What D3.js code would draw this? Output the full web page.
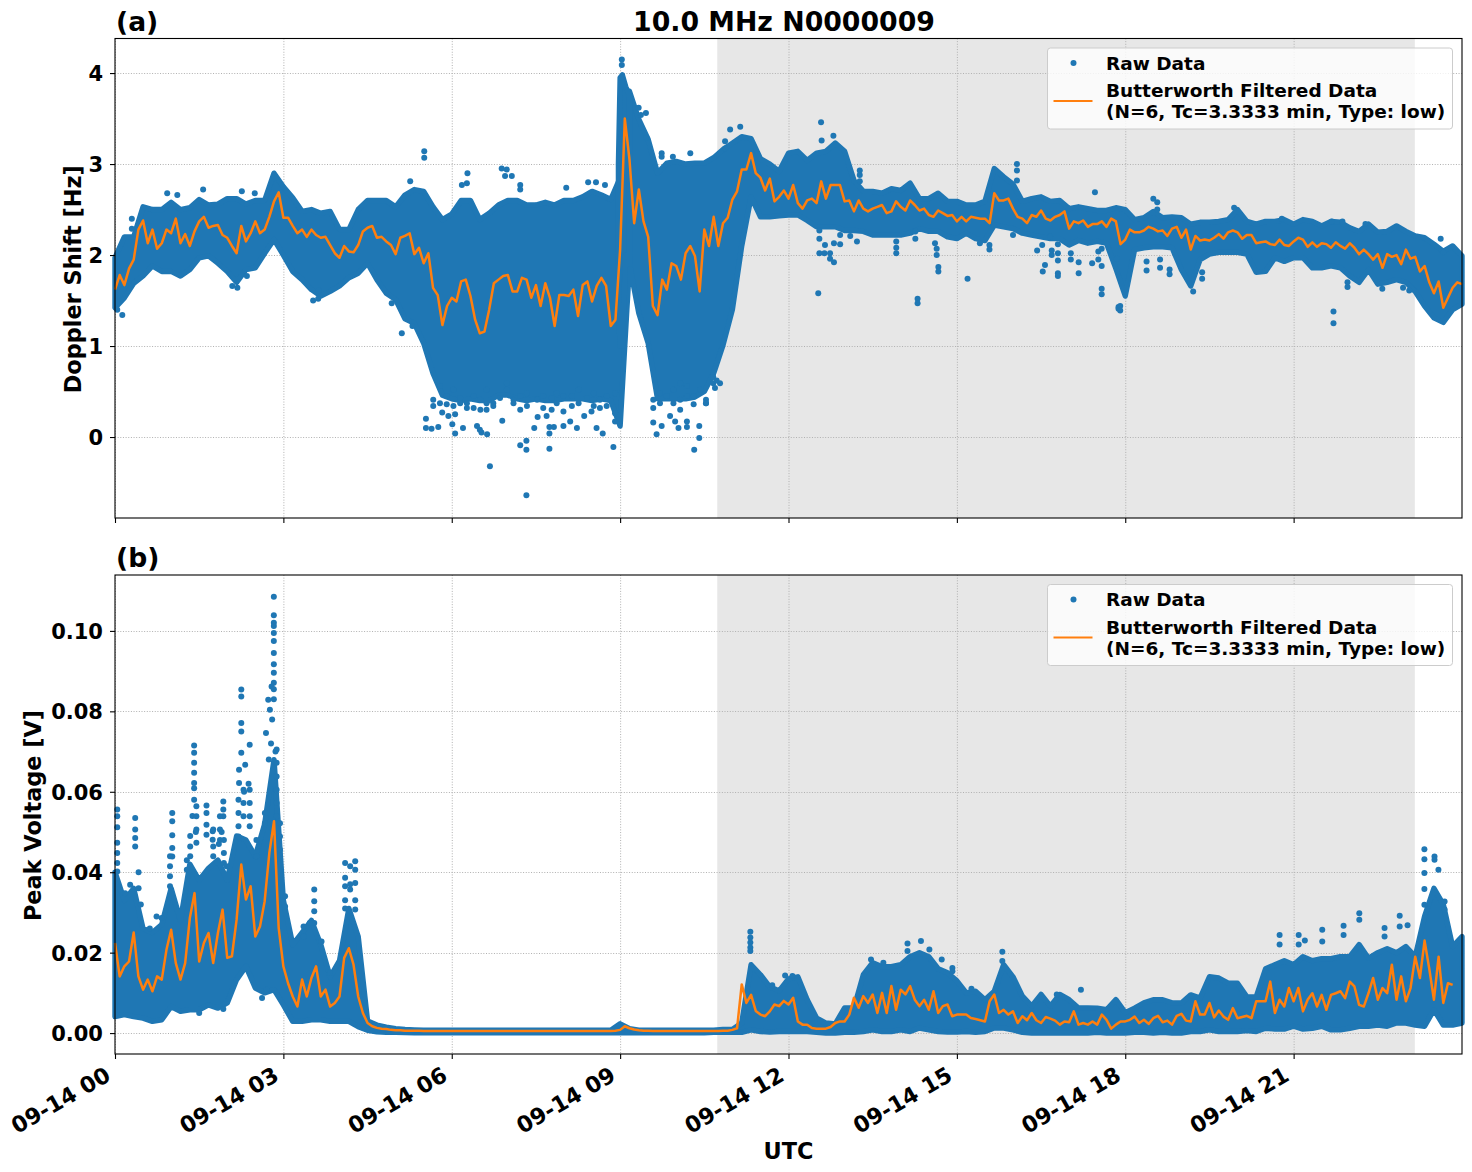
<!DOCTYPE html>
<html>
<head>
<meta charset="utf-8">
<script src="https://cdn.jsdelivr.net/npm/d3@7"></script>
<style>
html,body{margin:0;padding:0;background:#fff}
svg{display:block}
text{font-family:"DejaVu Sans",sans-serif;font-weight:bold;fill:#000}
</style>
</head>
<body>
<svg id="chart" width="1472" height="1172"></svg>
<script>
// Filtered Doppler shift [Hz], one value every 5 minutes from 00:00
const filteredHz = [
1.62,1.78,1.67,1.85,1.95,2.28,2.38,2.13,2.28,2.07,2.13,2.28,2.24,2.40,2.13,2.23,2.10,2.26,2.37,2.42,2.30,2.32,2.33,2.22,
2.19,2.10,2.02,2.32,2.15,2.24,2.37,2.24,2.28,2.42,2.59,2.69,2.41,2.41,2.32,2.24,2.28,2.20,2.28,2.22,2.19,2.20,2.11,2.02,
1.97,2.10,2.04,2.03,2.11,2.26,2.30,2.32,2.19,2.20,2.15,2.11,2.01,2.19,2.21,2.24,2.01,2.08,1.91,2.02,1.64,1.56,1.23,1.44,
1.53,1.49,1.71,1.73,1.55,1.29,1.14,1.16,1.40,1.69,1.73,1.77,1.78,1.60,1.60,1.75,1.73,1.53,1.67,1.44,1.69,1.53,1.22,1.56,
1.56,1.55,1.62,1.33,1.67,1.71,1.49,1.66,1.75,1.66,1.22,1.29,2.06,3.50,3.05,2.35,2.72,2.37,2.20,1.44,1.34,1.73,1.62,1.91,
1.88,1.73,2.02,2.10,1.99,1.60,2.28,2.10,2.42,2.10,2.35,2.41,2.61,2.70,2.94,2.94,3.12,2.90,2.85,2.71,2.84,2.59,2.64,2.71,
2.62,2.77,2.57,2.51,2.60,2.62,2.57,2.81,2.62,2.77,2.77,2.77,2.59,2.60,2.48,2.60,2.51,2.48,2.51,2.53,2.55,2.46,2.48,2.59,
2.53,2.49,2.60,2.55,2.49,2.51,2.44,2.42,2.49,2.46,2.43,2.44,2.37,2.42,2.37,2.42,2.41,2.40,2.40,2.35,2.68,2.60,2.60,2.62,
2.51,2.42,2.40,2.35,2.44,2.42,2.49,2.40,2.38,2.42,2.44,2.48,2.29,2.37,2.35,2.38,2.31,2.34,2.34,2.37,2.31,2.40,2.37,2.12,
2.17,2.28,2.25,2.25,2.27,2.31,2.29,2.26,2.27,2.21,2.29,2.31,2.19,2.28,2.06,2.21,2.16,2.17,2.16,2.19,2.23,2.18,2.25,2.27,
2.25,2.18,2.22,2.22,2.13,2.14,2.15,2.12,2.11,2.17,2.11,2.10,2.15,2.19,2.17,2.09,2.14,2.09,2.13,2.12,2.08,2.14,2.10,2.07,
2.13,2.08,2.01,2.06,2.01,1.95,2.01,1.86,2.01,1.98,2.00,1.90,2.06,1.96,1.98,1.82,1.88,1.70,1.58,1.71,1.42,1.53,1.64,1.70,1.68
];

// Upper and lower edge of the raw Doppler cloud [Hz], one value every 10 minutes
const rawHzHigh = [
1.97,2.20,2.20,2.53,2.50,2.50,2.58,2.50,2.52,2.61,2.55,2.56,2.62,2.62,2.56,2.60,2.60,2.90,2.75,2.63,2.48,2.50,2.46,2.48,
2.28,2.28,2.50,2.60,2.60,2.60,2.53,2.66,2.72,2.70,2.53,2.39,2.45,2.60,2.60,2.39,2.46,2.55,2.60,2.60,2.55,2.55,2.58,2.55,
2.60,2.60,2.64,2.70,2.66,2.61,2.85,3.80,3.49,3.27,2.90,3.01,3.03,3.00,3.01,3.01,3.07,3.16,3.23,3.30,3.28,3.06,3.00,2.92,
3.12,3.14,3.04,3.12,3.14,3.23,3.14,2.82,2.70,2.70,2.68,2.73,2.71,2.79,2.62,2.62,2.68,2.59,2.59,2.55,2.55,2.59,2.95,2.86,
2.78,2.59,2.62,2.64,2.59,2.60,2.51,2.53,2.51,2.49,2.49,2.52,2.50,2.39,2.41,2.48,2.41,2.42,2.41,2.34,2.36,2.36,2.37,2.39,
2.50,2.37,2.34,2.37,2.37,2.39,2.34,2.39,2.37,2.32,2.37,2.36,2.30,2.26,2.34,2.25,2.26,2.32,2.26,2.21,2.19,2.12,2.04,2.10,1.99
];
const rawHzLow = [
1.42,1.53,1.69,1.77,1.88,1.82,1.82,1.77,1.84,1.97,1.99,1.91,1.82,1.70,1.84,1.86,2.02,2.17,2.00,1.82,1.73,1.62,1.55,1.60,
1.66,1.75,1.80,1.91,1.73,1.58,1.51,1.30,1.25,1.03,0.70,0.46,0.42,0.40,0.42,0.40,0.40,0.46,0.46,0.42,0.40,0.42,0.40,0.40,
0.42,0.42,0.42,0.40,0.42,0.40,0.12,1.90,1.36,1.03,0.42,0.42,0.42,0.42,0.44,0.50,0.70,1.01,1.40,2.10,2.64,2.42,2.42,2.43,
2.44,2.44,2.38,2.31,2.31,2.31,2.27,2.27,2.26,2.22,2.22,2.22,2.22,2.24,2.29,2.26,2.26,2.20,2.18,2.24,2.18,2.16,2.33,2.31,
2.29,2.24,2.22,2.20,2.18,2.18,2.11,2.16,2.13,2.15,2.13,1.85,1.55,2.06,2.08,2.09,2.09,2.08,1.84,1.66,1.95,2.01,2.03,2.03,
2.03,2.01,1.81,1.82,1.97,1.93,1.97,1.97,1.86,1.86,1.88,1.86,1.77,1.70,1.84,1.68,1.70,1.73,1.70,1.60,1.44,1.31,1.26,1.40,1.46
];

// The narrow spike of the raw Doppler cloud just after 09:00, at finer time steps
const spikeHours = [8.97,9.00,9.04,9.10,9.17];
const spikeHzHigh = [3.00,3.95,3.98,3.85,3.75];
const spikeHzLow = [1.50,1.00,1.00,2.00,1.90];

// Isolated raw Doppler samples outside the cloud: [hour, Hz]
const strayHz = [
[0.30,2.40],[0.30,2.29],[2.35,1.77],[3.53,1.50],[3.62,1.52],[3.63,1.61],[4.93,1.47],[5.11,1.14],[5.30,1.22],[5.26,2.81],
[5.51,3.14],[5.51,3.07],[6.28,2.90],[6.89,2.95],[6.98,2.94],[6.95,2.87],[7.07,2.87],[7.22,2.77],[7.22,2.72],[6.18,2.77],
[6.27,2.79],[8.04,2.74],[8.43,2.80],[8.57,2.80],[8.73,2.77],[9.33,3.62],[9.46,3.56],[9.37,3.54],[9.47,3.29],[9.03,4.15],
[9.03,4.09],[9.74,3.12],[9.74,3.08],[9.94,3.08],[10.25,3.12],[10.87,3.25],[10.87,3.17],[10.96,3.38],[11.14,3.41],
[6.68,-0.32],[7.33,-0.64],[7.33,-0.04],[7.22,-0.09],[7.33,-0.14],[7.74,-0.13],[8.88,-0.11],[10.32,-0.14],[10.41,-0.01],
[10.41,0.12],[7.74,0.04],[7.74,0.11],[6.63,0.03],[6.53,0.05],[6.45,0.12],[6.50,0.08],[6.06,0.04],[6.01,0.14],[5.64,0.09],
[5.54,0.10],[5.54,0.20],[5.76,0.11],[5.83,0.27],[5.94,0.23],[6.06,0.25],[6.20,0.10],[6.90,0.18],[7.47,0.10],[7.53,0.22],
[7.69,0.23],[7.82,0.11],[7.99,0.12],[8.23,0.10],[8.11,0.17],[8.58,0.10],[8.69,0.04],[8.49,0.28],[8.36,0.23],[9.59,0.16],
[9.65,0.03],[9.74,0.12],[9.89,0.23],[9.98,0.17],[10.04,0.10],[10.19,0.17],[10.19,0.11],[10.78,0.59],[10.69,0.54],[10.53,0.37],
[5.67,0.41],[5.67,0.34],[5.79,0.56],[5.79,0.37],[5.91,0.45],[5.91,0.36],[6.03,0.52],[6.03,0.34],[6.15,0.43],[6.15,0.37],
[6.27,0.37],[6.27,0.32],[6.39,0.45],[6.39,0.32],[6.51,0.41],[6.51,0.30],[6.62,0.52],[6.62,0.37],[6.62,0.30],[6.74,0.37],
[6.74,0.34],[6.86,0.43],[6.98,0.59],[6.98,0.52],[7.10,0.41],[7.10,0.37],[7.22,0.45],[7.22,0.30],[7.34,0.48],[7.34,0.34],
[7.52,0.41],[7.63,0.45],[7.63,0.32],[7.78,0.43],[7.78,0.30],[7.87,0.48],[7.87,0.37],[7.99,0.45],[7.99,0.28],[8.14,0.45],
[8.14,0.34],[8.26,0.52],[8.26,0.37],[8.41,0.43],[8.53,0.48],[8.53,0.34],[8.64,0.41],[8.64,0.32],[8.76,0.45],[8.76,0.34],
[8.91,0.48],[8.91,0.26],[8.91,0.17],[9.59,0.41],[9.59,0.32],[9.71,0.48],[9.71,0.37],[9.83,0.45],[9.95,0.52],[9.95,0.37],
[10.07,0.59],[10.07,0.41],[10.07,0.30],[10.19,0.56],[10.19,0.45],[10.31,0.45],[10.31,0.36],[10.43,0.52],[10.53,0.41],[10.53,0.37],
[10.66,0.66],[10.66,0.59],[10.72,0.62],
[0.93,2.68],[1.11,2.66],[1.57,2.72],[2.26,2.70],[2.49,2.68],[2.09,1.66],[2.18,1.64],[0.13,1.34],[0.04,1.40],
[12.58,3.46],[12.80,3.31],[12.59,3.26],[13.27,2.93],[13.27,2.88],[13.27,2.81],[12.53,1.58],[12.55,2.02],[12.64,2.02],[12.74,2.02],
[12.81,1.92],[12.74,1.96],[12.65,2.11],[12.81,2.13],[12.92,2.12],[12.92,2.22],[12.55,2.18],[12.55,2.27],[13.10,2.21],[13.22,2.15],
[13.92,2.15],[13.92,2.08],[13.92,2.02],[14.26,2.18],[14.26,2.26],[14.30,1.52],[14.30,1.47],[14.61,2.13],[14.64,2.07],[14.64,2.00],
[14.67,1.87],[14.67,1.82],[15.19,1.74],[15.41,2.13],[15.58,2.11],[15.58,2.06],[16.07,3.00],[16.07,2.93],[16.07,2.82],[16.00,2.22],
[16.43,2.05],[16.52,2.11],[16.66,2.20],[16.80,2.12],[16.69,2.05],[16.69,2.00],[16.80,2.02],[16.80,1.94],[16.80,1.80],[16.80,1.77],
[16.53,1.82],[16.57,1.89],[17.03,2.02],[17.03,1.95],[17.17,1.92],[17.17,1.80],[17.41,1.91],[17.46,2.69],[17.52,2.04],[17.52,1.95],
[17.58,2.07],[17.58,1.88],[17.58,1.63],[17.58,1.57],[17.85,1.96],[17.88,1.41],[17.88,1.43],[18.50,2.62],[18.57,2.58],[18.57,2.50],
[17.91,1.44],[17.91,1.39],[18.38,1.93],[18.38,1.83],[18.62,1.95],[18.62,1.86],[18.79,1.84],[18.79,1.79],[19.21,1.60],[19.37,1.81],
[19.37,1.74],[21.71,1.38],[21.71,1.25],[21.96,1.70],[21.96,1.65],[22.58,1.63],[22.95,1.64],[23.06,1.61],[22.28,2.34],[21.87,2.37],
[21.68,2.37],[20.79,2.40],[23.62,2.18],[23.67,2.03],[19.94,2.52]
];

// Filtered peak voltage [mV], one value every 5 minutes from 00:00
const filteredMv = [
22.4,14.1,16.6,17.8,25.0,14.1,10.8,13.3,10.4,14.1,13.3,20.7,25.7,17.4,13.3,17.4,28.6,34.8,17.8,22.4,24.9,17.4,24.9,30.7,
18.7,19.1,28.2,41.9,33.2,36.5,24.0,26.5,32.8,44.8,52.7,26.1,16.6,12.4,9.1,6.6,13.3,9.1,13.7,16.6,9.1,10.8,6.6,7.5,
9.1,18.7,21.1,17.0,9.1,5.0,2.5,1.7,1.3,1.1,1.0,0.8,0.7,0.7,0.6,0.6,0.6,0.6,0.5,0.5,0.5,0.5,0.5,0.5,
0.5,0.5,0.5,0.5,0.5,0.5,0.5,0.5,0.5,0.5,0.5,0.5,0.5,0.5,0.5,0.5,0.5,0.5,0.5,0.5,0.5,0.5,0.5,0.5,
0.5,0.5,0.5,0.5,0.5,0.5,0.5,0.5,0.5,0.5,0.5,0.6,0.8,1.7,1.2,0.9,0.7,0.6,0.6,0.5,0.5,0.5,0.5,0.5,
0.5,0.5,0.5,0.5,0.5,0.5,0.5,0.5,0.5,0.5,0.6,0.6,0.8,1.2,12.1,7.5,9.5,5.5,4.6,4.2,5.4,7.1,6.7,8.0,
7.1,8.8,2.9,2.1,2.1,1.25,1.1,1.1,1.1,1.5,2.5,2.9,2.9,4.6,8.8,6.3,9.2,7.5,9.6,5.0,10.0,5.0,
11.7,5.8,10.8,9.6,11.7,8.3,6.7,8.3,5.8,10.4,5.0,6.7,7.1,4.2,4.6,4.6,4.6,3.75,3.5,3.2,2.9,7.9,9.6,5.0,
5.8,4.6,5.4,2.5,4.2,3.2,5.0,3.2,2.5,4.0,3.6,3.1,2.1,2.9,2.7,5.4,2.1,2.5,2.1,2.9,2.1,4.6,3.3,1.1,
2.1,2.9,2.9,3.3,4.1,2.5,3.3,2.3,3.7,4.3,2.7,3.1,2.1,4.3,4.8,3.1,2.9,7.9,4.6,4.6,7.5,3.9,5.6,4.1,
3.3,6.2,3.7,4.0,4.3,3.7,7.9,7.9,7.9,12.8,5.0,8.3,6.6,11.2,7.9,11.2,5.4,8.3,9.9,6.6,9.5,5.8,9.5,9.9,
10.4,8.7,12.8,11.6,7.0,6.6,9.9,13.7,8.3,11.2,9.9,17.0,8.3,14.1,7.9,11.2,19.0,13.7,23.0,16.0,8.3,19.0,7.5,12.4,12.0
];

// Upper and lower edge of the raw voltage cloud [mV], one value every 10 minutes
const rawMvHigh = [
40.0,33.0,36.0,26.0,25.0,27.0,36.0,28.0,42.0,38.0,41.0,43.0,38.0,49.0,48.0,44.0,52.0,68.0,33.0,22.0,25.0,28.0,22.0,14.0,
18.0,31.0,24.0,3.0,2.0,1.5,1.1,0.9,0.8,0.7,0.7,0.7,0.7,0.7,0.7,0.7,0.7,0.7,0.7,0.7,0.7,0.7,0.7,0.7,
0.7,0.7,0.7,0.7,0.7,0.7,2.3,1.1,0.7,0.7,0.7,0.7,0.7,0.7,0.7,0.7,0.7,0.9,0.9,2.5,17.0,14.5,11.5,10.5,
13.5,14.0,8.3,3.75,2.5,2.3,6.25,6.25,14.5,17.5,16.5,16.5,17.0,19.0,20.0,19.0,16.0,15.0,13.0,10.0,10.4,8.3,10.4,17.0,
14.0,9.2,6.7,9.6,6.7,9.6,8.3,6.25,6.25,6.2,5.8,8.3,5.1,6.2,7.5,8.3,8.3,7.5,7.5,9.5,8.7,14.0,13.7,12.4,
12.4,9.0,9.0,16.0,17.0,18.0,17.0,19.0,18.0,18.5,18.5,19.0,19.0,22.0,18.6,20.0,21.0,20.0,21.5,19.0,29.0,36.0,32.0,21.5,24.0
];
const rawMvLow = [
4.1,4.6,4.1,3.7,2.9,3.3,6.6,5.4,5.8,5.8,7.0,6.2,7.5,13.3,16.6,11.2,10.0,10.8,7.0,2.9,2.9,3.3,3.3,2.9,
2.9,2.9,1.6,0.7,0.3,0.2,0.2,0.15,0.1,0.1,0.1,0.1,0.1,0.1,0.1,0.1,0.1,0.1,0.1,0.1,0.1,0.1,0.1,0.1,
0.1,0.1,0.1,0.1,0.1,0.1,0.1,0.1,0.1,0.1,0.1,0.1,0.1,0.1,0.1,0.1,0.2,0.2,0.2,0.2,0.8,0.4,0.25,0.4,
0.4,0.4,0.4,0.2,0.0,0.0,0.2,0.2,0.4,0.8,0.4,0.4,0.8,0.4,1.25,0.8,0.4,0.25,0.25,0.4,0.2,0.4,1.25,1.25,
0.8,0.2,0.0,0.0,0.0,0.0,0.0,0.0,0.0,0.2,0.0,0.0,0.0,0.2,0.2,0.0,0.2,0.0,0.0,0.4,0.4,0.8,0.4,0.4,
0.4,0.6,0.4,1.2,1.0,1.0,1.7,1.0,1.2,1.7,0.8,0.8,1.2,1.7,1.7,2.0,1.7,2.5,2.5,2.0,1.7,5.8,2.0,2.0,2.5
];

// Isolated raw voltage samples above the cloud: [hour, mV]
const strayMv = [
[2.83,108.5],[2.83,103.9],[2.83,102.0],[2.83,101.2],[2.83,99.5],[2.83,97.5],[2.83,94.5],[2.83,91.7],[2.83,89.6],[2.83,87.1],[2.83,85.5],[2.83,83.0],
[2.76,80.4],[2.69,74.6],[2.73,82.9],[2.79,86.2],[2.80,78.0],[2.78,72.0],[2.74,68.0],[2.86,70.0],
[2.25,85.4],[2.25,83.7],[2.25,77.1],[2.25,75.0],[2.25,69.7],[2.40,71.7],[2.32,66.7],[2.21,65.5],[2.21,62.2],[2.30,60.0],[2.38,62.0],
[1.41,71.5],[1.41,69.7],[1.41,67.2],[1.41,64.7],[1.41,62.2],[1.41,60.9],[1.41,58.0],[1.38,54.0],[1.44,50.0],
[1.63,56.6],[1.63,54.7],[1.63,51.8],[1.63,49.3],[1.93,57.6],[1.93,55.6],[1.93,53.9],[1.90,50.0],[1.74,50.2],[1.74,48.1],[1.85,47.0],
[1.02,54.7],[1.02,52.7],[1.02,49.2],[1.02,46.0],[1.02,43.9],[0.36,53.5],[0.36,50.6],[0.36,48.5],[0.36,46.4],
[0.04,55.6],[0.04,53.9],[0.04,51.2],[0.04,47.3],[0.04,44.8],[0.04,42.3],[0.04,40.2],
[4.10,42.3],[4.10,38.6],[4.28,42.7],[4.28,40.6],[3.55,35.7],[3.55,32.8],[3.55,30.3],[3.55,27.4],
[1.50,5.0],[1.93,6.0],[2.62,8.7],[2.70,10.8],
[0.18,34.8],[0.27,36.9],[0.42,40.0],[0.42,36.0],[0.46,32.0],[0.62,26.0],[0.74,29.0],[0.83,28.6],[0.98,44.0],[0.98,41.5],[0.98,39.0],[0.98,36.5],
[1.28,43.0],[1.28,40.6],[1.34,49.0],[1.34,46.4],[1.34,44.0],[1.45,56.4],[1.45,53.9],[1.45,50.6],[1.45,47.3],[1.75,50.6],[1.75,46.4],[1.75,44.0],
[1.87,53.9],[1.87,50.6],[1.87,48.0],[1.94,48.0],[1.94,44.8],[1.94,42.3],[1.99,41.5],[2.20,58.0],[2.20,54.7],[2.20,51.4],[2.20,48.9],
[2.29,60.5],[2.29,57.2],[2.29,53.9],[2.40,60.5],[2.40,57.2],[2.40,53.9],[2.40,51.4],[2.52,48.0],[2.52,44.0],[2.67,54.7],[2.67,52.2],
[2.88,70.5],[2.88,67.2],[2.88,63.8],[2.88,60.5],[2.88,57.2],[2.88,53.9],[2.94,52.2],[2.94,48.9],[2.94,45.6],[3.03,34.0],[3.03,31.5],
[3.36,26.5],[3.36,24.0],[3.47,27.4],[3.68,22.8],[3.83,15.0],[4.10,36.5],[4.10,33.0],[4.10,31.0],[4.19,41.5],[4.19,37.0],[4.19,35.7],
[4.28,37.3],[4.28,33.0],[4.28,30.7],
[11.32,25.2],[11.32,23.75],[11.32,22.5],[11.32,21.25],[11.32,20.4],[11.71,11.9],[11.94,14.3],[12.07,14.2],
[13.47,18.3],[13.69,17.5],[14.12,22.3],[14.12,20.4],[14.36,22.9],[14.51,20.8],[14.73,18.3],[14.92,16.2],[14.92,15.4],
[15.81,20.25],[15.81,17.9],[15.26,11.0],[17.21,10.8],[16.78,9.6],
[23.33,45.7],[23.33,43.2],[23.33,39.8],[23.33,35.8],[23.33,31.9],[23.51,43.9],[23.51,43.1],[23.58,40.6],
[22.17,29.8],[22.17,28.2],[22.89,29.2],[22.89,26.5],[23.03,26.8],[21.89,26.7],[21.89,24.4],[21.51,25.7],[21.51,22.8],
[21.09,24.4],[21.09,22.0],[20.75,24.4],[20.75,22.0],[22.62,26.1],[22.62,24.0],[21.20,23.0],[23.69,32.7],[23.69,30.7]
];

const hourTicks = [0,3,6,9,12,15,18,21];
const dopplerTicks = [0,1,2,3,4];
const voltageTicks = [0,0.02,0.04,0.06,0.08,0.10];
const nightStart = 10.73, nightEnd = 23.16;
const legendLabels = ["Raw Data","Butterworth Filtered Data","(N=6, Tc=3.3333 min, Type: low)"];

const BLUE = "#1f77b4", ORANGE = "#ff7f0e";
const left = 115, right = 1462;
const svg = d3.select("#chart");
const day = h => new Date(Date.UTC(2024,8,14) + h*3600e3);
const x = d3.scaleUtc().domain([day(0),day(24)]).range([left,right]);

function panel(o){
  const y = d3.scaleLinear().domain(o.domain).range([o.bottom,o.top]);
  const g = svg.append("g");
  const clip = "clip-"+o.name;
  svg.append("clipPath").attr("id",clip).append("rect")
    .attr("x",left).attr("y",o.top).attr("width",right-left).attr("height",o.bottom-o.top);

  // shaded span
  g.append("rect").attr("x",x(day(nightStart))).attr("y",o.top)
    .attr("width",x(day(nightEnd))-x(day(nightStart))).attr("height",o.bottom-o.top)
    .attr("fill","#000").attr("fill-opacity",0.095);

  // grid
  const grid = g.append("g").attr("stroke","#b0b0b0").attr("stroke-width",1).attr("stroke-dasharray","1,1.65");
  grid.selectAll(".gx").data(hourTicks).join("line")
    .attr("x1",d=>x(day(d))+0.5).attr("x2",d=>x(day(d))+0.5).attr("y1",o.top).attr("y2",o.bottom);
  grid.selectAll(".gy").data(o.ticks).join("line")
    .attr("y1",d=>Math.round(y(d))+0.5).attr("y2",d=>Math.round(y(d))+0.5).attr("x1",left).attr("x2",right);

  const data = g.append("g").attr("clip-path",`url(#${clip})`);

  // raw cloud between its edges
  const cloud = d3.area()
    .x(d=>x(day(d[0])))
    .y0(d=>y(d[2]*o.k)).y1(d=>y(d[1]*o.k));
  const edges = o.high.map((v,i)=>[i/6,v,o.low[i]]);
  const patches = [edges];
  if(o.patch) patches.push(o.patch);
  data.selectAll(".cloud").data(patches).join("path").attr("d",cloud)
    .attr("fill",BLUE).attr("stroke",BLUE).attr("stroke-width",5.4).attr("stroke-linejoin","round");

  data.selectAll("circle").data(o.stray).join("circle")
    .attr("cx",d=>x(day(d[0]))).attr("cy",d=>y(d[1]*o.k)).attr("r",3).attr("fill",BLUE);

  // filtered trace
  const trace = d3.line().x((d,i)=>x(day(i/12))).y(d=>y(d*o.k));
  data.append("path").datum(o.filtered).attr("d",trace)
    .attr("fill","none").attr("stroke",ORANGE).attr("stroke-width",2.5).attr("stroke-linejoin","round");

  // axes
  const ax = g.append("g").attr("transform",`translate(0,${o.bottom})`)
    .call(d3.axisBottom(x).tickValues(hourTicks.map(day)).tickSize(5).tickSizeOuter(0)
      .tickFormat(o.labels ? d3.utcFormat("%m-%d %H") : ""));
  const ay = g.append("g").attr("transform",`translate(${left},0)`)
    .call(d3.axisLeft(y).tickValues(o.ticks).tickSize(5).tickSizeOuter(0).tickPadding(7)
      .tickFormat(o.fmt));
  ay.selectAll("text").style("font-size","21px").attr("dy","0.36em");
  [ax,ay].forEach(a=>{a.select(".domain").remove();a.selectAll("line").attr("stroke","#000").attr("stroke-width",1.1);});
  ax.selectAll("text").style("font-size","22.2px").attr("text-anchor","end").attr("dy",null).attr("y",null)
    .attr("transform","translate(-7,19.5) rotate(-30) translate(0,7)");

  g.append("rect").attr("x",left).attr("y",o.top).attr("width",right-left).attr("height",o.bottom-o.top)
    .attr("fill","none").attr("stroke","#000").attr("stroke-width",1.1);

  // legend
  const lx = 1047.5, ly = o.top+9.5;
  const lg = g.append("g").attr("transform",`translate(${lx},${ly})`);
  lg.append("rect").attr("width",405).attr("height",81).attr("rx",3)
    .attr("fill","#fff").attr("fill-opacity",0.8).attr("stroke","#cccccc").attr("stroke-width",1);
  lg.append("circle").attr("cx",26).attr("cy",15).attr("r",3).attr("fill",BLUE);
  lg.append("line").attr("x1",6).attr("x2",45).attr("y1",53).attr("y2",53).attr("stroke",ORANGE).attr("stroke-width",2);
  [[21.5,legendLabels[0]],[49,legendLabels[1]],[70,legendLabels[2]]].forEach(([ty,s])=>
    lg.append("text").attr("x",58.5).attr("y",ty).style("font-size","18.5px").text(s));

  // panel letter and y label
  svg.append("text").attr("x",116).attr("y",o.top-8).style("font-size","26.6px").text(o.name);
  svg.append("text").attr("transform",`translate(${o.ylabelX},${(o.top+o.bottom)/2+1}) rotate(-90)`)
    .attr("text-anchor","middle").style("font-size","22.4px").text(o.ylabel);
}

panel({name:"(a)",top:38.5,bottom:518,domain:[-0.89,4.38],ticks:dopplerTicks,fmt:d3.format("d"),
  high:rawHzHigh,low:rawHzLow,patch:spikeHours.map((h,i)=>[h,spikeHzHigh[i],spikeHzLow[i]]),
  stray:strayHz,filtered:filteredHz,k:1,labels:false,
  ylabel:"Doppler Shift [Hz]",ylabelX:81});
panel({name:"(b)",top:575,bottom:1054,domain:[-0.0052,0.1139],ticks:voltageTicks,fmt:d3.format(".2f"),
  high:rawMvHigh,low:rawMvLow,stray:strayMv,filtered:filteredMv,k:0.001,labels:true,
  ylabel:"Peak Voltage [V]",ylabelX:41});

svg.append("text").attr("x",784).attr("y",31).attr("text-anchor","middle").style("font-size","26.75px").text("10.0 MHz N0000009");
svg.append("text").attr("x",788.5).attr("y",1159).attr("text-anchor","middle").style("font-size","22.4px").text("UTC");
</script>
</body>
</html>
